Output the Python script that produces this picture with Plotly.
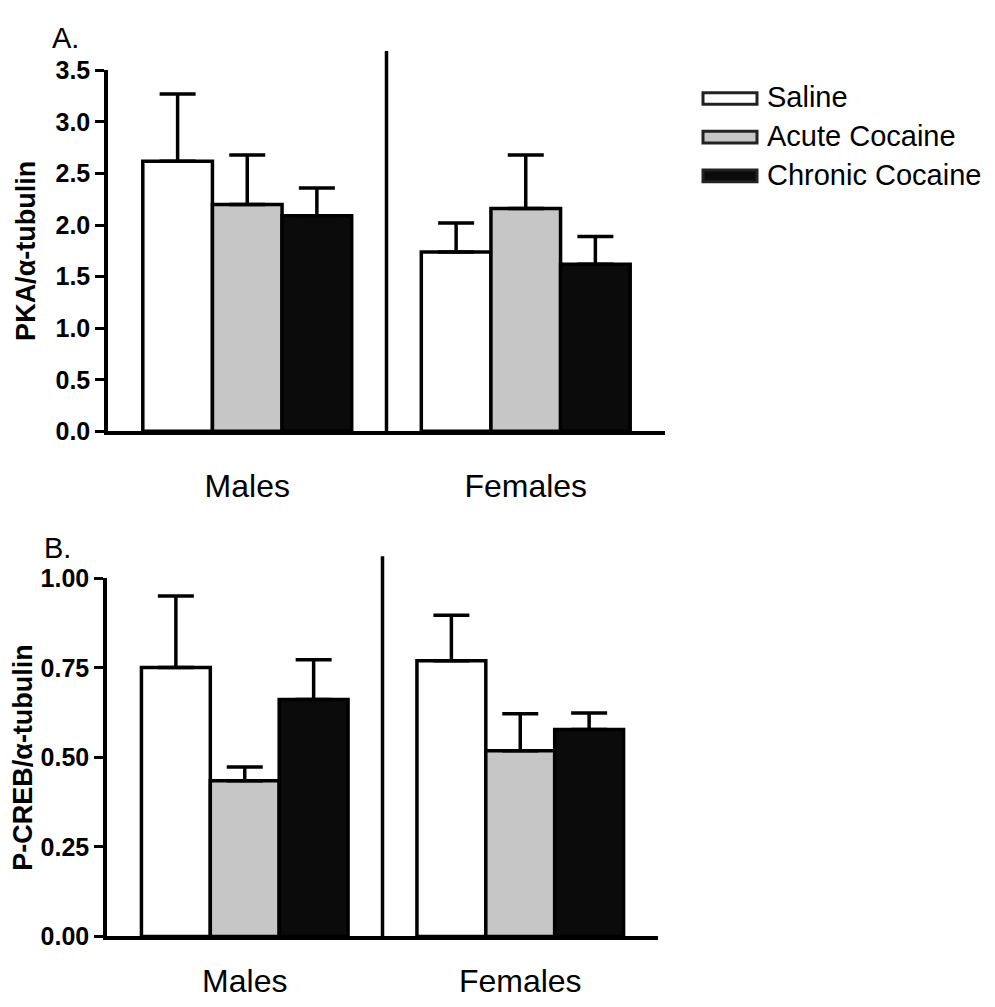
import plotly.graph_objects as go

# ---------------- data ----------------
groups = ["Males", "Females"]
series = ["Saline", "Acute Cocaine", "Chronic Cocaine"]

pka_saline = [2.62, 1.74]
pka_acute = [2.20, 2.16]
pka_chronic = [2.09, 1.62]
pka_saline_sem = [0.65, 0.28]
pka_acute_sem = [0.48, 0.52]
pka_chronic_sem = [0.27, 0.27]

pcreb_saline = [0.751, 0.770]
pcreb_acute = [0.435, 0.519]
pcreb_chronic = [0.662, 0.578]
pcreb_saline_sem = [0.200, 0.127]
pcreb_acute_sem = [0.038, 0.103]
pcreb_chronic_sem = [0.111, 0.046]

pka_ticks = [0.0, 0.5, 1.0, 1.5, 2.0, 2.5, 3.0, 3.5]
pcreb_ticks = [0.00, 0.25, 0.50, 0.75, 1.00]

pka_title = "PKA/α-tubulin"
pcreb_title = "P-CREB/α-tubulin"
panel_labels = ["A.", "B."]

# ---------------- style ----------------
PAGE_W, PAGE_H = 995, 1007
BODY = 8  # default page margin around the plot div
W, H = PAGE_W - 2 * BODY, PAGE_H - 2 * BODY
FONT = "Liberation Sans"
fills = ["#ffffff", "#c6c6c6", "#0b0b0b"]
LW = 3.5


def fx(p):
    """page pixel (from left) -> paper fraction"""
    return (p - BODY) / W


def fy(p):
    """page pixel (from top) -> paper fraction"""
    return 1 - (p - BODY) / H


fig = go.Figure()

panels = [
    ("x", "y", [pka_saline, pka_acute, pka_chronic],
     [pka_saline_sem, pka_acute_sem, pka_chronic_sem]),
    ("x2", "y2", [pcreb_saline, pcreb_acute, pcreb_chronic],
     [pcreb_saline_sem, pcreb_acute_sem, pcreb_chronic_sem]),
]

for xa, ya, means, sems in panels:
    for name, m, s, c in zip(series, means, sems, fills):
        fig.add_trace(go.Bar(
            x=groups, y=m, name=name, xaxis=xa, yaxis=ya,
            marker=dict(color=c, line=dict(color="black", width=LW)),
            error_y=dict(type="data", symmetric=False, array=s,
                         arrayminus=[0] * len(s), color="black",
                         thickness=3.5, width=18),
            showlegend=False,
        ))

tickfont = dict(family=FONT, size=25, color="black", weight="bold")
titlefont = dict(family=FONT, size=27, color="black", weight="bold")
catfont = dict(family=FONT, size=32, color="black")

common_x = dict(type="category", range=[-0.5, 1.5], showline=True,
                linewidth=LW, linecolor="black", ticks="", showgrid=False,
                zeroline=False, tickfont=catfont)
common_y = dict(showline=True, linewidth=LW, linecolor="black",
                ticks="outside", ticklen=9, tickwidth=3, tickcolor="black",
                showgrid=False, zeroline=False, tickfont=tickfont)

fig.update_layout(
    width=W, height=H,
    margin=dict(l=0, r=0, t=0, b=0),
    paper_bgcolor="white", plot_bgcolor="white",
    barmode="group", bargap=0.25, bargroupgap=0,
    xaxis=dict(domain=[fx(108), fx(665)], anchor="y",
               ticklabelstandoff=24, **common_x),
    yaxis=dict(domain=[fy(431), fy(58)], anchor="x", range=[0, 3.5],
               tickvals=pka_ticks, ticktext=[f"{v:.1f}" for v in pka_ticks],
               title=dict(text=pka_title, font=titlefont, standoff=13),
               **common_y),
    xaxis2=dict(domain=[fx(107), fx(658)], anchor="y2",
                ticklabelstandoff=13, **common_x),
    yaxis2=dict(domain=[fy(953), fy(583)], anchor="x2", range=[0, 1.0],
                tickvals=pcreb_ticks, ticktext=[f"{v:.2f}" for v in pcreb_ticks],
                title=dict(text=pcreb_title, font=titlefont, standoff=13),
                **common_y),
)

# vertical divider between the groups (extends above the plot area)
fig.add_shape(type="line", xref="x domain", yref="y domain",
              x0=0.5, x1=0.5, y0=0, y1=1.054,
              line=dict(color="black", width=LW))
fig.add_shape(type="line", xref="x2 domain", yref="y2 domain",
              x0=0.5, x1=0.5, y0=0, y1=1.062,
              line=dict(color="black", width=LW))

# custom legend
legend_rows = [87, 127, 167]
for name, c, yc in zip(series, fills, legend_rows):
    fig.add_shape(type="rect", xref="paper", yref="paper",
                  x0=fx(703), x1=fx(757), y0=fy(yc + 6), y1=fy(yc - 6),
                  fillcolor=c, line=dict(color="#222222", width=3))
    fig.add_annotation(x=fx(765), y=fy(yc - 1), xref="paper", yref="paper",
                       text=name, showarrow=False, xanchor="left",
                       yanchor="middle",
                       font=dict(family=FONT, size=29, color="black"))

# panel labels
for lab, xp, yp in zip(panel_labels, [50, 42], [25, 552]):
    fig.add_annotation(x=fx(xp), y=fy(yp), xref="paper", yref="paper",
                       text=lab, showarrow=False, xanchor="left",
                       yanchor="middle",
                       font=dict(family=FONT, size=29, color="black"))

fig.write_html("out.html")
